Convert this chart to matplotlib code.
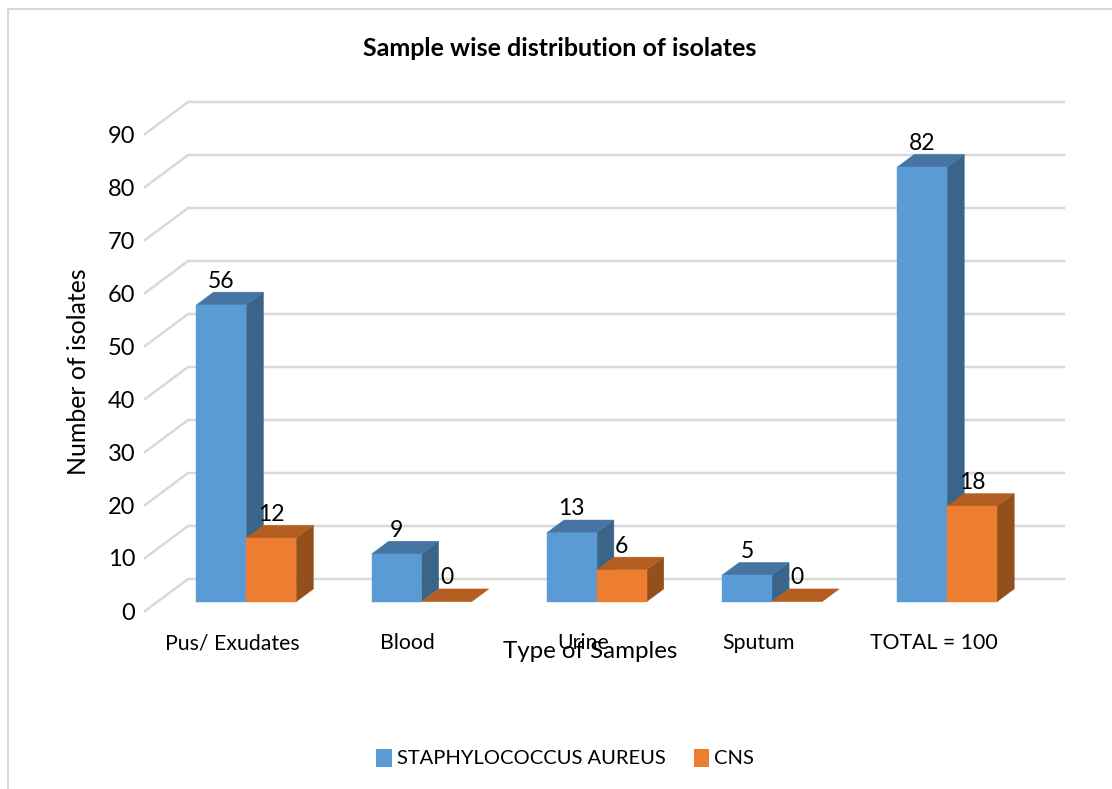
from matplotlib import pyplot as plt
from matplotlib.patches import Patch, Polygon
from matplotlib.lines import Line2D

categories = ['Pus/ Exudates', 'Blood', 'Urine', 'Sputum', 'TOTAL = 100']
staph = [56, 9, 13, 5, 82]
cns = [12, 0, 6, 0, 18]
y_ticks = [0, 10, 20, 30, 40, 50, 60, 70, 80, 90]

BLUE = ['#5B9BD5', '#4675A3', '#3A6488']
ORANGE = ['#ED7D31', '#B55E22', '#94501C']
GRID = '#D9D9D9'

# the fake 3d depth of the floor, in data units
DEPTH_X = 43 / 175.2
DEPTH_Y = 32 / 5.3
BAR_W = 0.285


def face(ax, pts, color):
    ax.add_patch(Polygon(pts, closed=True, fc=color, ec=color, lw=0.3, clip_on=False))


def bar3d(ax, left, val, color):
    # bar sits in the middle part of the floor depth
    x0 = left + 0.31 * DEPTH_X + 0.002
    x1 = x0 + BAR_W
    y0 = 0.29 * DEPTH_Y
    y1 = y0 + val
    dx = 0.40 * DEPTH_X
    dy = 0.40 * DEPTH_Y
    face(ax, [(x1, y0), (x1 + dx, y0 + dy), (x1 + dx, y1 + dy), (x1, y1)], color[2])
    face(ax, [(x0, y1), (x1, y1), (x1 + dx, y1 + dy), (x0 + dx, y1 + dy)], color[1])
    if val > 0:
        face(ax, [(x0, y0), (x1, y0), (x1, y1), (x0, y1)], color[0])
    ax.text((x0 + x1) / 2, y1 + 4.5, str(val), ha='center', va='center', fontsize=16.5)


def main():
    plt.rcParams['font.family'] = ['Lato', 'DejaVu Sans']
    fig = plt.figure(figsize=(11.12, 7.89), dpi=100)
    ax = fig.add_axes([145 / 1112, 1 - 611 / 789, 876 / 1112, 477 / 789])
    ax.set_xlim(-0.5, 4.5)
    ax.set_ylim(0, 90)
    for s in ax.spines.values():
        s.set_visible(False)

    # wall and floor lines
    for t in y_ticks:
        ax.plot([-0.5, -0.5 + DEPTH_X, 4.5 + DEPTH_X], [t, t + DEPTH_Y, t + DEPTH_Y],
                color=GRID, lw=1.8, clip_on=False, zorder=0)

    for i in range(len(categories)):
        bar3d(ax, i - BAR_W, staph[i], BLUE)
        bar3d(ax, i, cns[i], ORANGE)

    ax.set_xticks(range(len(categories)))
    ax.set_xticklabels(categories, fontsize=15.3)
    ax.set_yticks(y_ticks)
    ax.tick_params(axis='x', length=0, pad=16)
    ax.tick_params(axis='y', length=0, pad=7, labelsize=17)

    ax.set_xlabel('Type of Samples', fontsize=17.4)
    ax.xaxis.set_label_coords(445 / 876, -30 / 477)
    ax.set_ylabel('Number of isolates', fontsize=17.9, va='center')
    ax.yaxis.set_label_coords(-66 / 876, 239 / 477)

    fig.text(560 / 1112, 1 - 48 / 789, 'Sample wise distribution of isolates',
             ha='center', va='center', fontsize=18, fontweight='bold')

    handles = [Patch(fc=BLUE[0], label='STAPHYLOCOCCUS AUREUS'),
               Patch(fc=ORANGE[0], label='CNS')]
    fig.legend(handles=handles, ncol=2, frameon=False, fontsize=14.5,
               loc='center', bbox_to_anchor=(565 / 1112, 1 - 758 / 789),
               handlelength=0.75, handleheight=1, handletextpad=0.25, columnspacing=1.4)

    # chart border, right and bottom are cropped away
    fig.add_artist(Line2D([7.5 / 1112, 7.5 / 1112, 1], [0, 1 - 8.5 / 789, 1 - 8.5 / 789],
                          color=GRID, lw=1.5))

    fig.savefig('out.png', dpi=100)


if __name__ == "__main__":
    main()
